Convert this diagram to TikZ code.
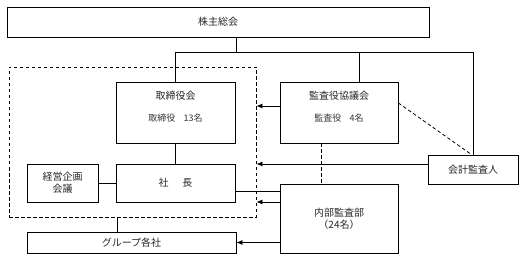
\documentclass[tikz,border=0pt]{standalone}
\usepackage{fontspec}
\setmainfont{Noto Sans CJK JP}
\usetikzlibrary{arrows.meta}
\begin{document}
\begin{tikzpicture}[x=1pt,y=-1pt,
  box/.style={draw,line width=0.8pt,rectangle,inner sep=0pt},
  lbl/.style={inner sep=0pt,font=\fontsize{10}{12}\selectfont,text=black!85,align=center},
  sml/.style={inner sep=0pt,font=\fontsize{9}{11}\selectfont,text=black!80,align=center},
  ln/.style={line width=0.8pt},
  dl/.style={line width=0.8pt,dash pattern=on 3.5pt off 2.5pt},
  arr/.style={line width=0.8pt,-{Latex[length=6pt,width=5pt]}}]
\useasboundingbox (0,0) rectangle (530,259);
% boxes
\node[box,minimum width=422,minimum height=30] (top) at (218,22) {};
\node[lbl] (toptx) at (top.center) {株主総会};
\node[box,dl,minimum width=247,minimum height=150] (exec) at (132.5,142) {};
\node[box,minimum width=119,minimum height=61] (board) at (175.5,112.5) {};
\node[lbl] (boardtx) at (175.5,96) {取締役会};
\node[sml] (boardsub) at (175.5,118) {取締役\hspace{0.9em}13名};
\node[box,minimum width=118,minimum height=61] (kansa) at (339,112.5) {};
\node[lbl] (kansatx) at (339,96) {監査役協議会};
\node[sml] (kansasub) at (339,118) {監査役\hspace{0.9em}4名};
\node[box,minimum width=119,minimum height=38] (shacho) at (175.5,183) {};
\node[lbl] (shachotx) at (shacho.center) {社\hspace{1.4em}長};
\node[box,minimum width=71,minimum height=38] (keiei) at (62.5,183) {};
\node[lbl] (keieitx) at (keiei.center) {経営企画\\会議};
\node[box,minimum width=90,minimum height=29] (kaikei) at (473,169.5) {};
\node[lbl] (kaikeitx) at (kaikei.center) {会計監査人};
\node[box,minimum width=118,minimum height=69] (naibu) at (339,218.5) {};
\node[lbl] (naibutx) at (naibu.center) {内部監査部\\（24名）};
\node[box,minimum width=209,minimum height=21] (group) at (131.5,242.5) {};
\node[lbl] (grouptx) at (group.center) {グループ各社};
% connectors
\coordinate (j) at (236,52);
\coordinate (k) at (359,52);
\draw[ln] (j |- top.south) -- (j);
\draw[ln] (board.north) |- (kaikei.north |- j) -- (kaikei.north);
\draw[ln] (k) -- (k |- kansa.north);
\draw[ln] (board.south) -- (shacho.north);
\draw[ln] (keiei.east) -- (shacho.west);
\draw[arr] ([yshift=6.5pt]kansa.west) -- ([yshift=6.5pt]kansa.west -| exec.east);
\draw[arr] ([yshift=5.5pt]kaikei.west) -- ([yshift=5.5pt]kaikei.west -| exec.east);
\draw[dl] ([yshift=9.5pt]kansa.east) -- ([xshift=-1.5pt]kaikei.north);
\draw[dl] ([xshift=-18pt]kansa.south) -- ([xshift=-18pt]naibu.north);
\draw[ln] ([yshift=-8pt]shacho.east) -- ([yshift=-8pt]shacho.east -| naibu.west);
\draw[arr] ([yshift=16.5pt]naibu.west) -- ([yshift=16.5pt]naibu.west -| exec.east);
\draw[arr] (group.east -| naibu.west) -- (group.east);
\draw[ln] ([xshift=-14.5pt]group.north |- exec.south) -- ([xshift=-14.5pt]group.north);
\end{tikzpicture}
\end{document}
